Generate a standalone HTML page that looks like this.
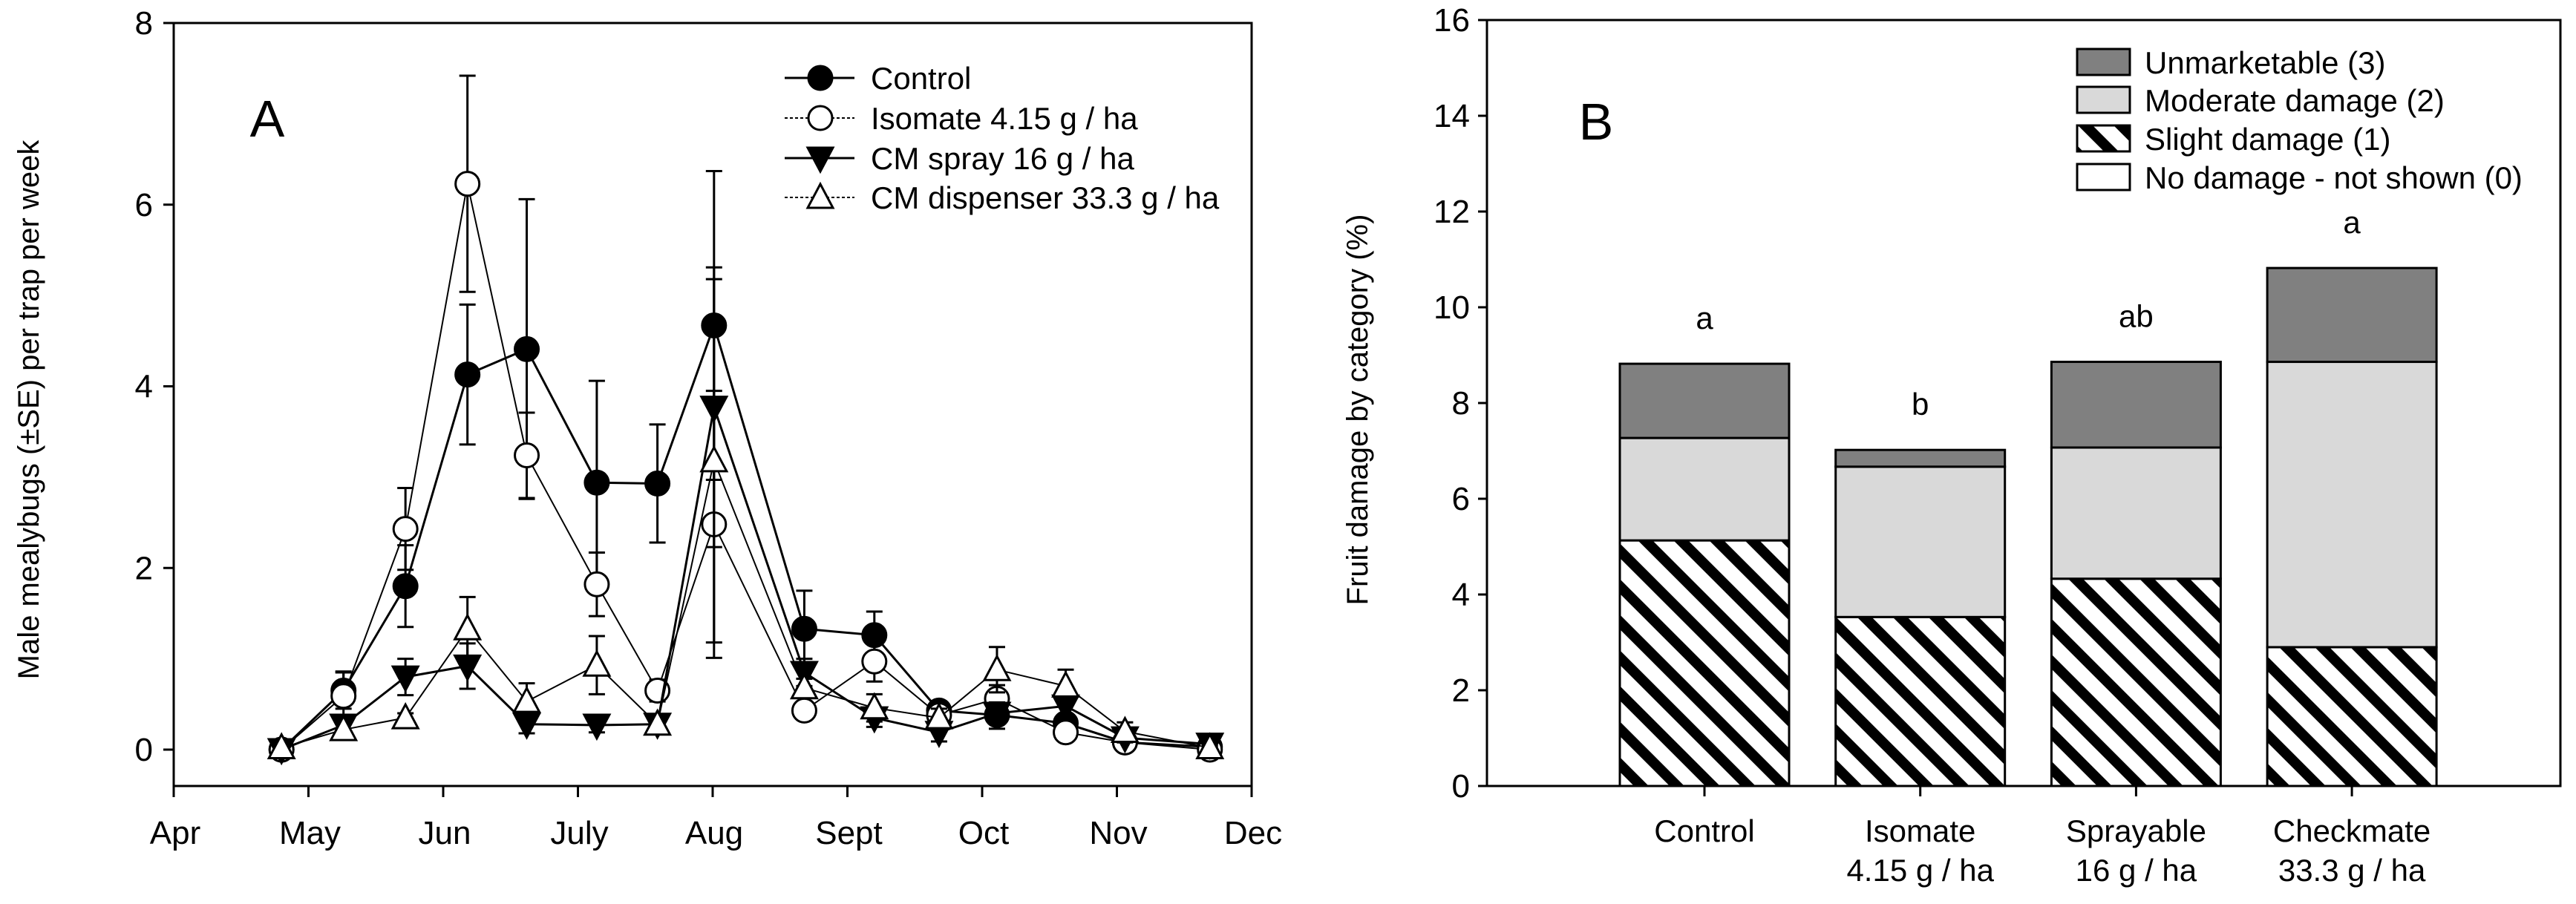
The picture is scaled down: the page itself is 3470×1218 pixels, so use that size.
<!DOCTYPE html>
<html><head><meta charset="utf-8"><style>
html,body{margin:0;padding:0;background:#fff;}
svg{display:block;font-family:"Liberation Sans Narrow","Liberation Sans",sans-serif;}
</style></head><body>
<svg id="chart" width="3470" height="1218" viewBox="0 0 3470 1218" xmlns="http://www.w3.org/2000/svg">
<defs>
<pattern id="hatch" patternUnits="userSpaceOnUse" width="48" height="48">
<rect width="48" height="48" fill="#fff"/>
<path d="M-12,-12 L60,60 M-12,36 L12,60 M36,-12 L60,12" stroke="#000" stroke-width="14"/>
</pattern>
</defs>
<g id="panelA"></g>
<g id="panelB"></g>
</svg>
<script>
// ---------- Panel A data ----------
const monthLabels = ["Apr","May","Jun","July","Aug","Sept","Oct","Nov","Dec"];
const yTicksA = [0,2,4,6,8];
const sampleMonths = [0.80,1.26,1.72,2.18,2.62,3.14,3.59,4.01,4.68,5.20,5.68,6.11,6.62,7.06,7.69];
const controlVals = [0,0.65,1.80,4.13,4.41,2.94,2.93,4.67,1.33,1.26,0.43,0.38,0.29,0.08,0.03];
const controlErr  = [0.03,0.2,0.45,0.77,1.65,1.12,0.65,1.7,0.42,0.26,0.1,0.15,0.2,0.05,0.03];
const isomateVals = [0,0.59,2.43,6.23,3.24,1.82,0.65,2.48,0.43,0.97,0.38,0.56,0.19,0.08,0];
const isomateErr  = [0.02,0.27,0.45,1.19,0.47,0.35,0.12,1.47,0.1,0.22,0.1,0.15,0.1,0.05,0.02];
const sprayVals   = [0,0.27,0.80,0.92,0.28,0.27,0.28,3.77,0.85,0.35,0.19,0.40,0.48,0.13,0.06];
const sprayErr    = [0.02,0.1,0.2,0.25,0.1,0.08,0.1,1.54,0.15,0.1,0.1,0.12,0.12,0.05,0.05];
const dispVals    = [0.02,0.22,0.35,1.33,0.53,0.93,0.28,3.18,0.68,0.46,0.35,0.88,0.70,0.20,0.02];
const dispErr     = [0.03,0.08,0.05,0.35,0.2,0.32,0.1,2.0,0.1,0.15,0.1,0.25,0.18,0.1,0.02];
// ---------- Panel B data ----------
const treatments = [["Control"],["Isomate","4.15 g / ha"],["Sprayable","16 g / ha"],["Checkmate","33.3 g / ha"]];
const slightVals   = [5.13,3.53,4.33,2.90];
const moderateVals = [2.14,3.14,2.74,5.96];
const unmarketVals = [1.55,0.35,1.79,1.96];
const sigLetters   = ["a","b","ab","a"];
const yTicksB = [0,2,4,6,8,10,12,14,16];

const NS="http://www.w3.org/2000/svg";
function mk(parent,tag,attrs,text){const e=document.createElementNS(NS,tag);for(const k in attrs)e.setAttribute(k,attrs[k]);if(text!==undefined)e.textContent=text;parent.appendChild(e);return e;}

// ---- Panel A ----
const A=document.getElementById('panelA');
const ax0=234, ax1=1686, ay0=1059, ayTop=31;
const xA=m=>ax0+m*(ax1-ax0)/8;
const yA=v=>1010-v*(1010-31)/8;
let el;
el=mk(A,'path',{d:`M${ax0},${ayTop} L${ax0},${ay0} L${ax1},${ay0} L${ax1},${ayTop} L${ax0},${ayTop}`,fill:'none',stroke:'#000','stroke-width':3});


yTicksA.forEach(t=>{
  el=mk(A,'line',{x1:220,x2:ax0,y1:yA(t),y2:yA(t),stroke:'#000','stroke-width':3});
  
  
  el=mk(A,'text',{x:206,y:yA(t)+15,'text-anchor':'end','font-size':44},t);
  
  
});
monthLabels.forEach((m,i)=>{
  el=mk(A,'line',{x1:xA(i),x2:xA(i),y1:ay0,y2:1074,stroke:'#000','stroke-width':3});
  
  
  el=mk(A,'text',{x:xA(i)+2,y:1137,'text-anchor':'middle','font-size':44},m);
  
  
});
el=mk(A,'text',{x:0,y:0,transform:'translate(52,552) rotate(-90)','text-anchor':'middle','font-size':40},'Male mealybugs (\u00b1SE) per trap per week');


el=mk(A,'text',{x:360,y:184,'text-anchor':'middle','font-size':70},'A');



function marker(g,type,cx,cy){
  const r=16;
  if(type==='fcircle')return mk(g,'circle',{cx,cy,r,fill:'#000',stroke:'#000','stroke-width':3});
  if(type==='ocircle')return mk(g,'circle',{cx,cy,r,fill:'#fff',stroke:'#000','stroke-width':3});
  if(type==='dtri')return mk(g,'path',{d:`M${cx-17},${cy-14} L${cx+17},${cy-14} L${cx},${cy+18} Z`,fill:'#000',stroke:'#000','stroke-width':3});
  return mk(g,'path',{d:`M${cx-17},${cy+14} L${cx+17},${cy+14} L${cx},${cy-18} Z`,fill:'#fff',stroke:'#000','stroke-width':3});
}
const seriesA=[
 {name:'Control',vals:controlVals,err:controlErr,m:'fcircle',lw:3,key:'control'},
 {name:'Isomate 4.15 g / ha',vals:isomateVals,err:isomateErr,m:'ocircle',lw:2,key:'isomate'},
 {name:'CM spray 16 g / ha',vals:sprayVals,err:sprayErr,m:'dtri',lw:3,key:'cm-spray'},
 {name:'CM dispenser 33.3 g / ha',vals:dispVals,err:dispErr,m:'utri',lw:2,key:'cm-dispenser'}
];
seriesA.forEach(s=>{
  const g=mk(A,'g',{});
  
  
  const pts=s.vals.map((v,i)=>`${xA(sampleMonths[i])},${yA(v)}`).join(' ');
  el=mk(g,'polyline',{points:pts,fill:'none',stroke:'#000','stroke-width':s.lw});
  
  
  s.vals.forEach((v,i)=>{
    const x=xA(sampleMonths[i]),yt=yA(v+s.err[i]),yb=yA(Math.max(0,v-s.err[i]));
    el=mk(g,'path',{d:`M${x},${yt} L${x},${yb} M${x-11},${yt} L${x+11},${yt} M${x-11},${yb} L${x+11},${yb}`,stroke:'#000','stroke-width':3,fill:'none'});
    
    
  });
  s.vals.forEach((v,i)=>{
    el=marker(g,s.m,xA(sampleMonths[i]),yA(v));
    
    
  });
});
// legend A
const legA=mk(A,'g',{});


[105,159,213,266].forEach((y,i)=>{
  const s=seriesA[i];
  const g=mk(legA,'g',{});
  
  
  mk(g,'line',{x1:1057,x2:1151,y1:y,y2:y,stroke:'#000','stroke-width':s.lw,'stroke-dasharray':s.lw===2?'4,3':'none'});
  marker(g,s.m,1105,y);
  mk(g,'text',{x:1173,y:y+15,'font-size':42},s.name);
});

// ---- Panel B ----
const B=document.getElementById('panelB');
const bx0=2003,bx1=3449,by0=1059,byTop=27;
const yB=v=>by0-v*(by0-byTop)/16;
const barCenters=i=>2296+i*290.7;
const barW=228;
el=mk(B,'path',{d:`M${bx0},${byTop} L${bx0},${by0} L${bx1},${by0} L${bx1},${byTop} Z`,fill:'none',stroke:'#000','stroke-width':3});


yTicksB.forEach(t=>{
  el=mk(B,'line',{x1:1991,x2:bx0,y1:yB(t),y2:yB(t),stroke:'#000','stroke-width':3});
  
  
  el=mk(B,'text',{x:1980,y:yB(t)+15,'text-anchor':'end','font-size':44},t);
  
  
});
el=mk(B,'text',{x:0,y:0,transform:'translate(1842,552) rotate(-90)','text-anchor':'middle','font-size':40},'Fruit damage by category (%)');


el=mk(B,'text',{x:2150,y:188,'text-anchor':'middle','font-size':70},'B');


treatments.forEach((t,i)=>{
  const cx=barCenters(i),x=cx-barW/2;
  const g=mk(B,'g',{});
  
  
  const s1=slightVals[i],s2=s1+moderateVals[i],s3=s2+unmarketVals[i];
  el=mk(g,'rect',{x,y:yB(s1),width:barW,height:yB(0)-yB(s1),fill:'url(#hatch)',stroke:'#000','stroke-width':3});
  
  
  el=mk(g,'rect',{x,y:yB(s2),width:barW,height:yB(s1)-yB(s2),fill:'#d9d9d9',stroke:'#000','stroke-width':3});
  
  
  el=mk(g,'rect',{x,y:yB(s3),width:barW,height:yB(s2)-yB(s3),fill:'#808080',stroke:'#000','stroke-width':3});
  
  
  el=mk(g,'text',{x:cx,y:yB(s3+0.95)+14,'text-anchor':'middle','font-size':42},sigLetters[i]);
  
  
  el=mk(B,'line',{x1:cx,x2:cx,y1:by0,y2:1073,stroke:'#000','stroke-width':3});
  
  
  t.forEach((line,j)=>{
    el=mk(B,'text',{x:cx,y:1134+j*53,'text-anchor':'middle','font-size':42},line);
    
    
  });
});
// legend B
const legB=mk(B,'g',{});


const legItems=[["Unmarketable (3)","#808080"],["Moderate damage (2)","#d9d9d9"],["Slight damage (1)","url(#hatch)"],["No damage - not shown (0)","#fff"]];
[66,117,169,221].forEach((y,i)=>{
  const g=mk(legB,'g',{});
  
  
  mk(g,'rect',{x:2798,y,width:71,height:35,fill:legItems[i][1],stroke:'#000','stroke-width':3});
  mk(g,'text',{x:2889,y:y+33,'font-size':42},legItems[i][0]);
});
</script>
</body></html>
